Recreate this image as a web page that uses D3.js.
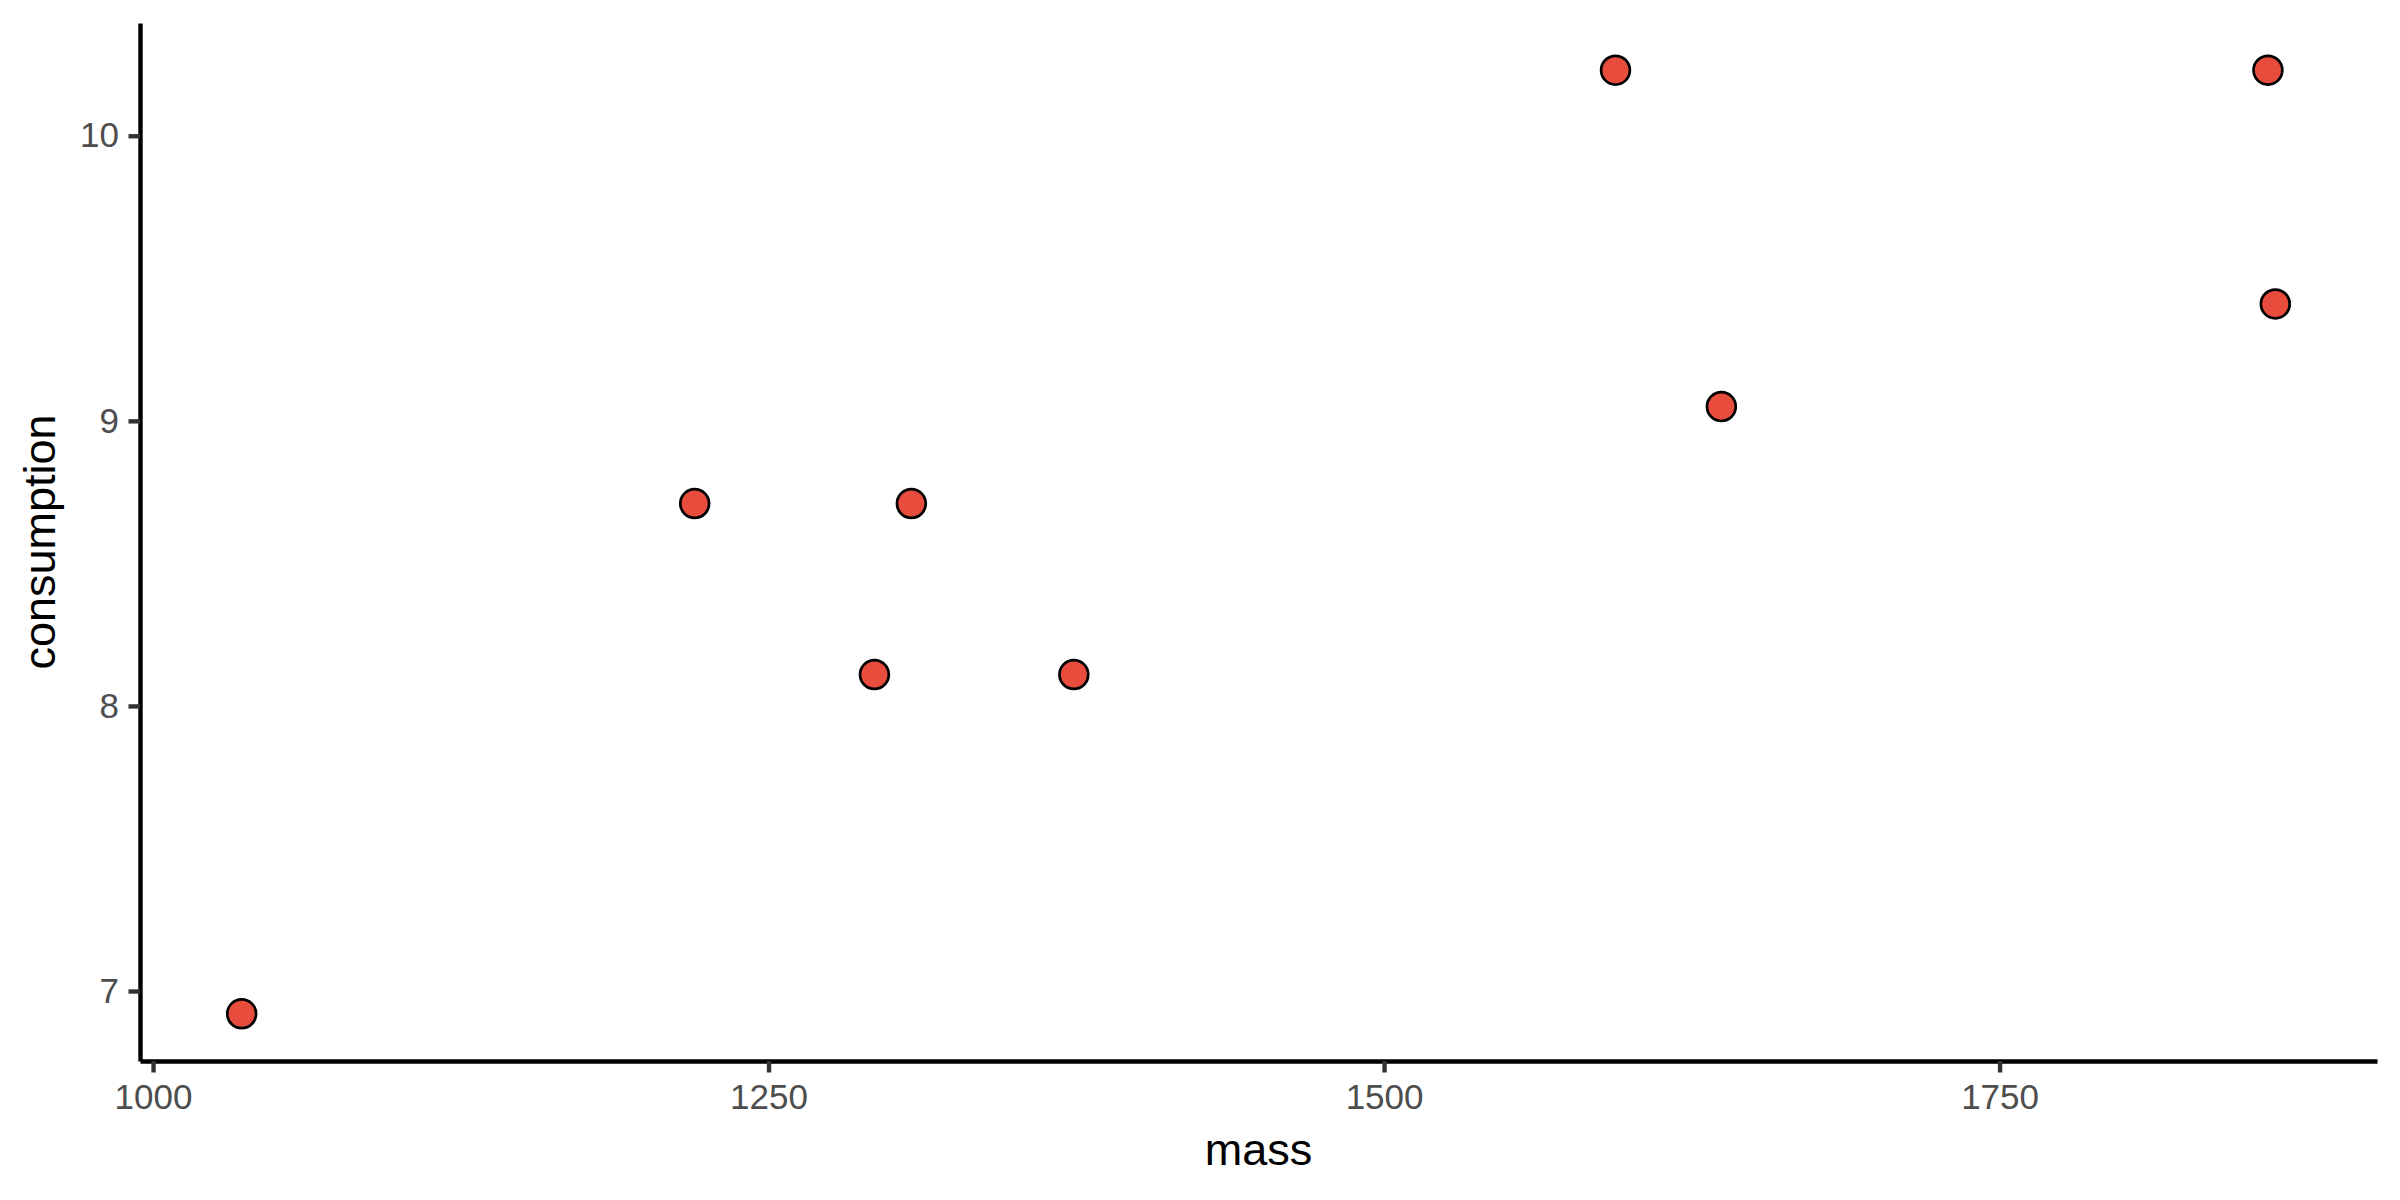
<!DOCTYPE html>
<html>
<head>
<meta charset="utf-8">
<script src="https://cdn.jsdelivr.net/npm/d3@7"></script>
<style>
  body { margin: 0; background: #fff; }
  svg { display: block; font-family: "Liberation Sans", Arial, Helvetica, sans-serif; }
</style>
</head>
<body>
<div id="chart"></div>
<script>
// values
const mass = [1036, 1220, 1293, 1308, 1374, 1594, 1637, 1859, 1862];
const consumption = [6.92, 8.71, 8.11, 8.71, 8.11, 10.23, 9.05, 10.23, 9.41];
const xTicks = [1000, 1250, 1500, 1750];
const yTicks = [7, 8, 9, 10];
const xTitle = "mass";
const yTitle = "consumption";

const W = 2400, H = 1200;
const panel = {left: 140, right: 2377, top: 23, bottom: 1061};

// ggplot-style 5% expansion of the data range
const expand = ext => {
  const pad = (ext[1] - ext[0]) * 0.05;
  return [ext[0] - pad, ext[1] + pad];
};

const data = mass.map((m, i) => ({mass: m, consumption: consumption[i]}));

const x = d3.scaleLinear()
            .domain(expand(d3.extent(mass)))
            .range([panel.left, panel.right]);

const y = d3.scaleLinear()
            .domain(expand(d3.extent(consumption)))
            .range([panel.bottom, panel.top]);

const svg = d3
              .select("#chart")
              .append("svg")
              .attr("width", W)
              .attr("height", H);

svg.append("rect")
  .attr("width", W)
  .attr("height", H)
  .attr("fill", "#fff");

const xAxis = d3.axisBottom(x)
                .tickValues(xTicks)
                .tickFormat(d3.format("d"))
                .tickSize(11.5)
                .tickSizeOuter(0)
                .tickPadding(11.5);

const yAxis = d3.axisLeft(y)
                .tickValues(yTicks)
                .tickFormat(d3.format("d"))
                .tickSize(11.5)
                .tickSizeOuter(0)
                .tickPadding(9.5);

const styleAxis = g => {
  g.select(".domain")
    .attr("stroke", "#000")
    .attr("stroke-width", 4.4);
  g.selectAll(".tick line")
    .attr("stroke", "#333333")
    .attr("stroke-width", 4.4);
  g.selectAll(".tick text")
    .attr("fill", "#4d4d4d")
    .style("font-size", "35px");
  g.attr("font-family", null);
};

svg.append("g")
  .attr("transform", `translate(0, ${panel.bottom})`)
  .call(xAxis)
  .call(styleAxis);

svg.append("g")
  .attr("transform", `translate(${panel.left}, 0)`)
  .call(yAxis)
  .call(styleAxis);

// points
svg.append("g")
  .selectAll("circle")
  .data(data)
  .enter()
  .append("circle")
  .attr("cx", d => x(d.mass))
  .attr("cy", d => y(d.consumption))
  .attr("r", 14.4)
  .attr("fill", "#E74C3C")
  .attr("stroke", "#000")
  .attr("stroke-width", 2.7);

// axis titles
svg.append("text")
  .attr("x", (panel.left + panel.right) / 2)
  .attr("y", 1165)
  .attr("text-anchor", "middle")
  .style("font-size", "45px")
  .attr("fill", "#000")
  .text(xTitle);

svg.append("text")
  .attr("transform", `translate(55, ${(panel.top + panel.bottom) / 2}) rotate(-90)`)
  .attr("text-anchor", "middle")
  .style("font-size", "45px")
  .attr("fill", "#000")
  .text(yTitle);
</script>
</body>
</html>
